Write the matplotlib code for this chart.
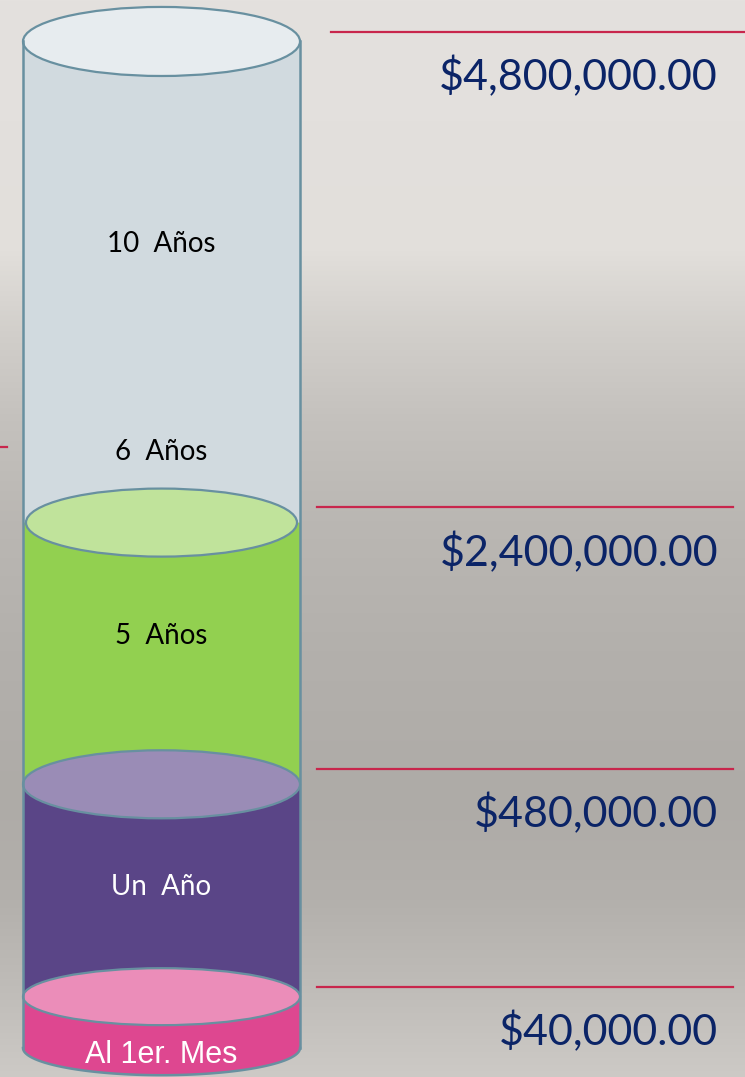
import numpy as np
import matplotlib.pyplot as plt
from matplotlib.patches import Ellipse, Polygon

# fill levels of the cylinder, 0 = bottom of the tank, 100 = brim
seg_names = ["Al 1er. Mes", "Un Año", "5 Años", "10 Años"]
seg_tops = [5.1, 26.2, 52.2, 100.0]

# labels written inside the cylinder
label_text = ["Al 1er. Mes", "Un  Año", "5  Años", "6  Años", "10  Años"]
label_levels = [-1.5, 15.2, 40.1, 58.4, 79.1]

# amounts on the right and the level of the red rule above each one
amounts = ["$40,000.00", "$480,000.00", "$2,400,000.00", "$4,800,000.00"]
amount_levels = [6.06, 27.7, 53.7, 100.94]
tick_level = 59.7  # small red mark on the left edge

# styles
body_cols = ["#de4790", "#5a4587", "#92d050", "#d1dadf"]
lid_cols = ["#eb8db9", "#9a8cb6", "#c0e39b", "#e7ecef"]
lid_ry = [2.83, 3.38, 3.38, 3.43]
label_cols = ["white", "white", "black", "black", "black"]
edge = "#6890a0"
red = "#c8264c"
navy = "#0b2467"

W, H = 745, 1077
ylo, yhi = -2.88, 104.12

fig = plt.figure(figsize=(W / 100, H / 100), dpi=100)
ax = fig.add_axes([0, 0, 1, 1])
ax.set_xlim(0, W)
ax.set_ylim(ylo, yhi)
ax.axis("off")

# background: grey slide gradient
stops_y = [0, 120, 250, 330, 420, 520, 650, 800, 900, 1000, 1077]
stops_c = ["#e4e1de", "#e3e0dd", "#e2dfdb", "#d2cfcb", "#c4c1bd", "#bab7b3",
           "#b3b0ac", "#aeaba7", "#b3b0ac", "#c1beba", "#cdcac6"]
rgb = np.array([[int(c[i:i + 2], 16) / 255 for i in (1, 3, 5)] for c in stops_c])
rows = np.arange(H)
grad = np.stack([np.interp(rows, stops_y, rgb[:, k]) for k in range(3)], axis=-1)
grad = np.repeat(grad[:, None, :], 2, axis=1)
ax.imshow(grad, extent=(0, W, ylo, yhi), aspect="auto", zorder=0)

xc, rx = 161.5, 138.5
bottom_ry = 2.7
th = np.linspace(np.pi, 2 * np.pi, 120)


def body(lo, hi, ry, color, z):
    xs = np.concatenate([[xc - rx], xc + rx * np.cos(th), [xc + rx]])
    ys = np.concatenate([[hi], lo + ry * np.sin(th), [hi]])
    ax.add_patch(Polygon(np.column_stack([xs, ys]), closed=True, fc=color,
                         ec="none", zorder=z))


# outer glass first, then the coloured layers
body(0, seg_tops[-1], bottom_ry, body_cols[-1], 1)
lows = [0] + seg_tops[:-1]
for i in range(len(seg_tops) - 1):
    body(lows[i], seg_tops[i], bottom_ry if i == 0 else lid_ry[i - 1],
         body_cols[i], 2 + i)

for i, top in enumerate(seg_tops):
    w = 2 * rx - (6 if i == 2 else 0)
    ax.add_patch(Ellipse((xc, top), w, 2 * lid_ry[i], fc=lid_cols[i],
                         ec=edge, lw=1.6, zorder=10))

# outline of the glass
ax.plot([xc - rx, xc - rx], [0, seg_tops[-1]], color=edge, lw=1.8, zorder=11)
ax.plot([xc + rx, xc + rx], [0, seg_tops[-1]], color=edge, lw=1.8, zorder=11)
ax.plot(xc + rx * np.cos(th), bottom_ry * np.sin(th), color=edge, lw=1.8,
        zorder=11)

for txt, lv, c in zip(label_text, label_levels, label_cols):
    fam = "Liberation Sans" if txt.startswith("Al") else "Lato"
    fs = 22 if txt.startswith("Al") else 20
    ax.text(xc, lv, txt, ha="center", va="baseline", color=c, fontsize=fs,
            family=fam, zorder=12)

# red rules and the amounts under them
for k, (amt, lv) in enumerate(zip(amounts, amount_levels)):
    x0, x1 = (331, W) if k == len(amounts) - 1 else (317, 733)
    ax.plot([x0, x1], [lv, lv], color=red, lw=1.6, zorder=5)
    ax.text(718, lv - 5.8, amt, ha="right", va="baseline", color=navy,
            fontsize=31, family="Lato", zorder=5)
ax.plot([0, 7], [tick_level, tick_level], color=red, lw=1.6, zorder=5)

fig.savefig("out.png", dpi=100)
